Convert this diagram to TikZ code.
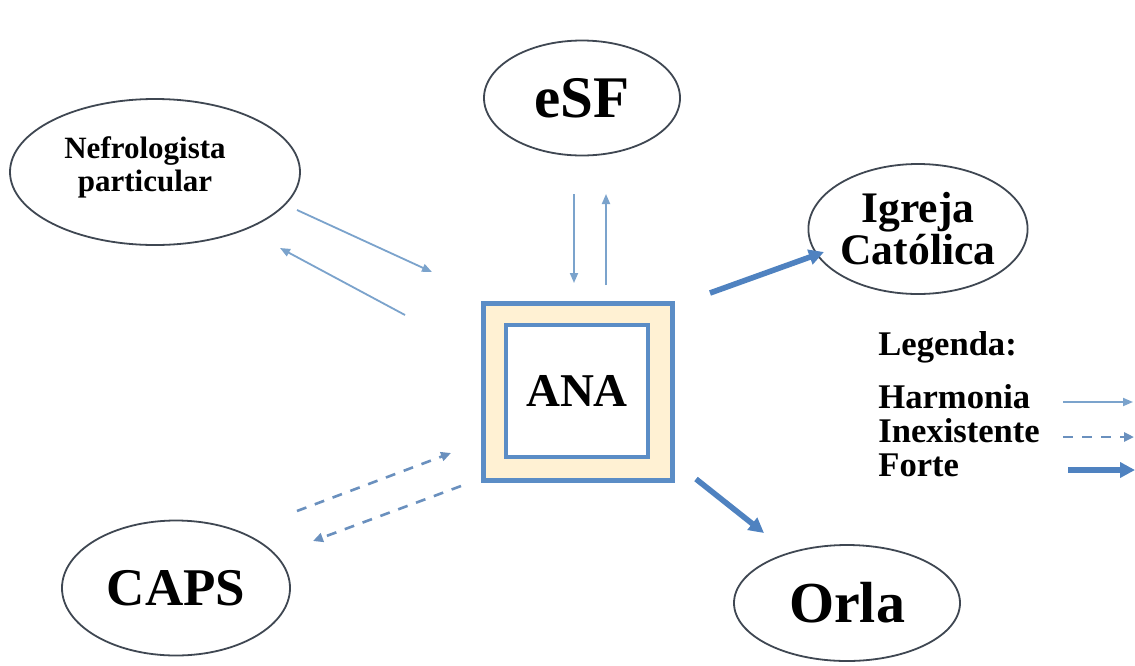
\documentclass[tikz,border=0pt]{standalone}
\usepackage{fontspec}
\setmainfont{Liberation Serif}
\usetikzlibrary{shapes.geometric,arrows.meta}
\definecolor{edgecol}{HTML}{3F4752}
\definecolor{thinblue}{HTML}{7BA3CC}
\definecolor{dashblue}{HTML}{6A90BE}
\definecolor{thickblue}{HTML}{4F82C0}
\definecolor{boxblue}{HTML}{5B8DC6}
\definecolor{beige}{HTML}{FFF1D3}
\begin{document}
\begin{tikzpicture}[x=0.5pt,y=-0.5pt,
  oval/.style={ellipse,draw=edgecol,line width=0.9pt,inner sep=0pt,align=center},
  harm/.style={draw=thinblue,line width=0.9pt,-{Triangle[length=5pt,width=4pt]}},
  inex/.style={draw=dashblue,line width=1.3pt,dash pattern=on 5pt off 4.5pt,-{Triangle[length=5pt,width=4.5pt]}},
  forte/.style={draw=thickblue,line width=2.8pt,-{Triangle[length=7.5pt,width=7.5pt]}},
  legtext/.style={anchor=base west,font=\fontsize{17.3}{19}\selectfont\bfseries,inner sep=0pt}]
\useasboundingbox (0,0) rectangle (1135,665);
\fill[white] (0,0) rectangle (1135,665);

% ellipses
\node[oval,minimum width=145pt,minimum height=73pt] (nefro) at (155,172) {};
\node[align=center,inner sep=0pt,font=\fontsize{15.5}{16.5}\selectfont\bfseries] (nefrotxt) at (145,167) {Nefrologista\\particular};
\node[oval,minimum width=98pt,minimum height=57.5pt,font=\fontsize{29.5}{31}\selectfont\bfseries] (esf) at (582,98) {eSF};
\node[oval,minimum width=105.5pt,minimum height=65pt,font=\fontsize{21.8}{18}\selectfont\bfseries] (igreja) at (918,229) {Igreja\\Católica};
\node[oval,minimum width=114pt,minimum height=67.5pt,font=\fontsize{26.5}{28}\selectfont\bfseries] (caps) at (176,588) {CAPS};
\node[oval,minimum width=113pt,minimum height=58pt,font=\fontsize{29}{31}\selectfont\bfseries] (orla) at (847,603) {Orla};

% central box
\node[draw=boxblue,fill=beige,line width=2.5pt,minimum width=94.5pt,minimum height=88.5pt,inner sep=0pt] (outer) at (577.5,391.5) {};
\node[draw=boxblue,fill=white,line width=2.3pt,minimum width=71pt,minimum height=66pt,inner sep=0pt,font=\fontsize{23.5}{26}\selectfont\bfseries] (ana) at (577,391) {ANA};

% connector end points
\coordinate (a1s) at (297,210); \coordinate (a1e) at (432,272);
\coordinate (a2s) at (405,315); \coordinate (a2e) at (280,248);
\coordinate (a3s) at (574,194); \coordinate (a3e) at (574,283);
\coordinate (a4s) at (606,285); \coordinate (a4e) at (606,194);
\coordinate (a5s) at (710,293); \coordinate (a5e) at (824,252);
\coordinate (a6s) at (696,479); \coordinate (a6e) at (764,533);
\coordinate (a7s) at (297,511); \coordinate (a7e) at (451,453);
\coordinate (a8s) at (461,486); \coordinate (a8e) at (313,541);

\draw[harm] (a1s) -- (a1e);
\draw[harm] (a2s) -- (a2e);
\draw[harm] (a3s) -- (a3e);
\draw[harm] (a4s) -- (a4e);
\draw[forte] (a5s) -- (a5e);
\draw[forte] (a6s) -- (a6e);
\draw[inex] (a7s) -- (a7e);
\draw[inex] (a8s) -- (a8e);

% legend
\node[legtext] (leg) at (878,355) {Legenda:};
\node[legtext] (lh) at (878,408) {Harmonia};
\node[legtext] (li) at (878,442) {Inexistente};
\node[legtext] (lf) at (878,476) {Forte};
\coordinate (lhs) at (1063,402); \coordinate (lhe) at (1133,402);
\coordinate (lis) at (1063,437); \coordinate (lie) at (1134,437);
\coordinate (lfs) at (1068,470); \coordinate (lfe) at (1135,470);
\draw[harm] (lhs) -- (lhe);
\draw[inex] (lis) -- (lie);
\draw[forte] (lfs) -- (lfe);
\end{tikzpicture}
\end{document}
